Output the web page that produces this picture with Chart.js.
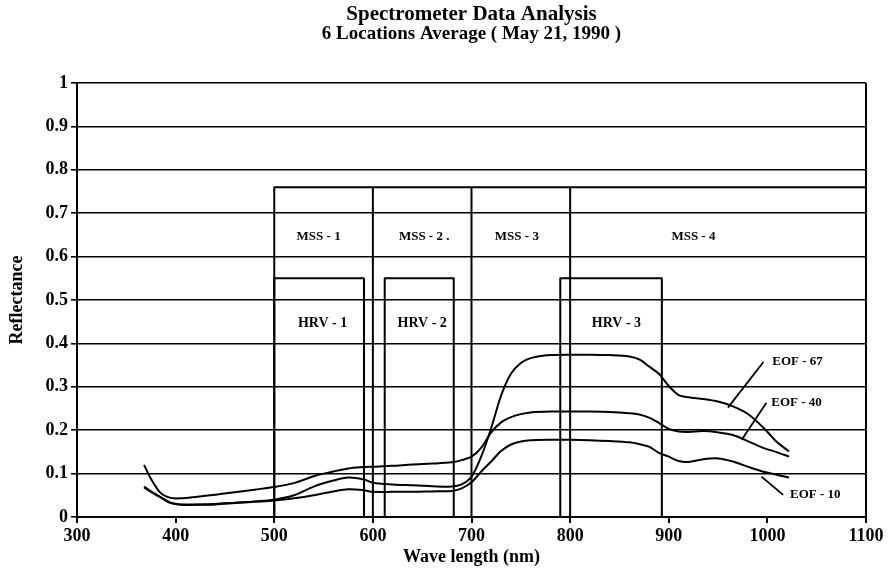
<!DOCTYPE html>
<html>
<head>
<meta charset="utf-8">
<script src="https://cdn.jsdelivr.net/npm/chart.js@4.4.0/dist/chart.umd.min.js"></script>
<style>
  html, body { margin: 0; padding: 0; background: #fff; }
  #wrap { width: 889px; height: 571px; }
</style>
</head>
<body>
<div id="wrap"><canvas id="chart" width="889" height="571"></canvas></div>
<script>
// ── DATA ────────────────────────────────────────────────────────────────────────

const wavelengths = [368, 375, 385, 395, 405, 420, 440, 460, 480, 500, 520, 540, 560, 575, 590, 600,
  620, 640, 660, 680, 690, 700, 710, 720, 730, 740, 750, 760, 780, 800, 820, 840, 860, 870, 880,
  890, 900, 910, 920, 935, 950, 965, 980, 995, 1010, 1022];

const eof67 = [0.068, 0.058, 0.045, 0.033, 0.029, 0.029, 0.030, 0.033, 0.036, 0.040, 0.050, 0.070,
  0.084, 0.091, 0.087, 0.079, 0.075, 0.073, 0.071, 0.070, 0.075, 0.093, 0.140, 0.205, 0.280, 0.330,
  0.355, 0.366, 0.373, 0.374, 0.374, 0.373, 0.370, 0.363, 0.347, 0.330, 0.302, 0.281, 0.276, 0.272,
  0.266, 0.255, 0.238, 0.208, 0.172, 0.151];

const eof40 = [0.120, 0.088, 0.055, 0.044, 0.043, 0.046, 0.051, 0.057, 0.063, 0.069, 0.078, 0.094,
  0.105, 0.112, 0.115, 0.116, 0.118, 0.121, 0.123, 0.126, 0.131, 0.139, 0.160, 0.195, 0.218, 0.230,
  0.237, 0.241, 0.243, 0.243, 0.243, 0.242, 0.239, 0.236, 0.229, 0.217, 0.203, 0.197, 0.196, 0.198,
  0.195, 0.189, 0.175, 0.160, 0.149, 0.139];

const eof10 = [0.070, 0.059, 0.045, 0.032, 0.028, 0.028, 0.029, 0.032, 0.035, 0.038, 0.043, 0.050,
  0.059, 0.064, 0.062, 0.058, 0.058, 0.058, 0.059, 0.060, 0.066, 0.080, 0.105, 0.128, 0.152, 0.167,
  0.174, 0.177, 0.178, 0.178, 0.177, 0.175, 0.172, 0.168, 0.162, 0.148, 0.139, 0.129, 0.127, 0.133,
  0.135, 0.128, 0.116, 0.105, 0.097, 0.091];

// satellite band ranges (nm)
const mssBands = [[500, 600], [600, 700], [700, 800], [800, 1100]];
const mssNames = ['MSS - 1', 'MSS - 2 .', 'MSS - 3', 'MSS - 4'];
const mssTop = 0.76;

const hrvBands = [[500, 591], [612, 682], [790, 893]];
const hrvNames = ['HRV - 1', 'HRV - 2', 'HRV - 3'];
const hrvTop = 0.55;

const curveNames = ['EOF - 67', 'EOF - 40', 'EOF - 10'];

// ── HELPERS ─────────────────────────────────────────────────────────────────────

const SERIF = '"Liberation Serif", "Times New Roman", serif';
const pts = arr => wavelengths.map((w, i) => ({ x: w, y: arr[i] }));
const curve = (label, arr) => ({
  label, data: pts(arr),
  borderColor: '#000', borderWidth: 2, pointRadius: 0, tension: 0.3, fill: false
});

// band boxes, band names, curve call-outs and the right frame edge
const annotations = {
  id: 'annotations',
  beforeDatasetsDraw(chart, args, opts) {
    const { ctx, chartArea: ca, scales: { x, y } } = chart;
    const px = v => x.getPixelForValue(v), py = v => y.getPixelForValue(v);
    ctx.save();
    ctx.strokeStyle = '#000';
    ctx.lineWidth = 2;
    ctx.lineJoin = 'round';

    // right edge of the frame
    ctx.beginPath();
    ctx.moveTo(ca.right, ca.top);
    ctx.lineTo(ca.right, ca.bottom);
    ctx.stroke();

    // MSS boxes
    ctx.beginPath();
    mssBands.forEach(([a, b]) => {
      ctx.moveTo(px(a), py(0));
      ctx.lineTo(px(a), py(mssTop));
      ctx.lineTo(px(b), py(mssTop));
      ctx.lineTo(px(b), py(0));
    });
    ctx.stroke();

    // HRV boxes
    ctx.beginPath();
    hrvBands.forEach(([a, b]) => {
      ctx.moveTo(px(a), py(0));
      ctx.lineTo(px(a), py(hrvTop));
      ctx.lineTo(px(b), py(hrvTop));
      ctx.lineTo(px(b), py(0));
    });
    ctx.stroke();

    ctx.fillStyle = '#000';
    ctx.textAlign = 'center';
    ctx.textBaseline = 'middle';
    ctx.font = 'bold 13px ' + SERIF;
    mssNames.forEach((n, i) => ctx.fillText(n, px(opts.mssLabelAt[i]), py(opts.mssLabelY)));
    ctx.font = 'bold 14px ' + SERIF;
    hrvNames.forEach((n, i) => ctx.fillText(n, px(opts.hrvLabelAt[i]), py(opts.hrvLabelY)));

    // curve call-outs
    ctx.font = 'bold 13px ' + SERIF;
    ctx.textAlign = 'left';
    ctx.lineWidth = 1.8;
    opts.callouts.forEach((c, i) => {
      ctx.beginPath();
      ctx.moveTo(px(c.from[0]), py(c.from[1]));
      ctx.lineTo(px(c.to[0]), py(c.to[1]));
      ctx.stroke();
      ctx.fillText(curveNames[i], px(c.text[0]), py(c.text[1]));
    });
    ctx.restore();
  }
};

// ── CHART ───────────────────────────────────────────────────────────────────────

new Chart(document.getElementById('chart').getContext('2d'), {
  type: 'line',
  data: {
    datasets: [
      curve(curveNames[0], eof67),
      curve(curveNames[1], eof40),
      curve(curveNames[2], eof10)
    ]
  },
  options: {
    responsive: false,
    animation: false,
    devicePixelRatio: 1,
    layout: { padding: { left: 0, right: 23, top: 0, bottom: 0 } },
    plugins: {
      legend: { display: false },
      tooltip: { enabled: false },
      title: {
        display: true,
        fullSize: false,
        text: 'Spectrometer Data Analysis',
        color: '#000',
        font: { family: SERIF, size: 21, weight: 'bold', lineHeight: 1 },
        padding: { top: 4.5, bottom: 0 }
      },
      subtitle: {
        display: true,
        fullSize: false,
        text: '6 Locations Average ( May 21, 1990 )',
        color: '#000',
        font: { family: SERIF, size: 19, weight: 'bold', lineHeight: 0.9 },
        padding: { top: 0, bottom: 40.4 }
      },
      annotations: {
        mssLabelAt: [545, 652, 746, 925],
        mssLabelY: 0.645,
        hrvLabelAt: [549, 650, 847],
        hrvLabelY: 0.447,
        callouts: [
          { from: [996, 0.357], to: [960, 0.252], text: [1005, 0.357] },
          { from: [999, 0.263], to: [974, 0.178], text: [1004, 0.263] },
          { from: [994, 0.093], to: [1016, 0.051], text: [1023, 0.051] }
        ]
      }
    },
    scales: {
      x: {
        type: 'linear',
        min: 300, max: 1100,
        ticks: { stepSize: 100, color: '#000', padding: 3, maxRotation: 0,
          font: { family: SERIF, size: 18, weight: 'bold' },
          callback: v => String(v) },
        grid: { drawOnChartArea: false, drawTicks: true, tickLength: 6, color: '#000', lineWidth: 2 },
        border: { color: '#000', width: 2 },
        title: { display: true, text: 'Wave length (nm)', color: '#000',
          font: { family: SERIF, size: 18, weight: 'bold' }, padding: { top: 0, bottom: 3 } },
        afterFit: s => { s.height = 54; }
      },
      y: {
        min: 0, max: 1,
        ticks: { stepSize: 0.1, color: '#000', padding: 3,
          font: { family: SERIF, size: 18, weight: 'bold' },
          callback: v => String(Number(v.toFixed(1))) },
        grid: { color: '#000', lineWidth: 1.6, tickLength: 6 },
        border: { color: '#000', width: 2 },
        title: { display: true, text: 'Reflectance', color: '#000',
          font: { family: SERIF, size: 18, weight: 'bold' }, padding: { top: 7, bottom: 0 } },
        afterFit: s => { s.width = 77; }
      }
    }
  },
  plugins: [annotations]
});
</script>
</body>
</html>
